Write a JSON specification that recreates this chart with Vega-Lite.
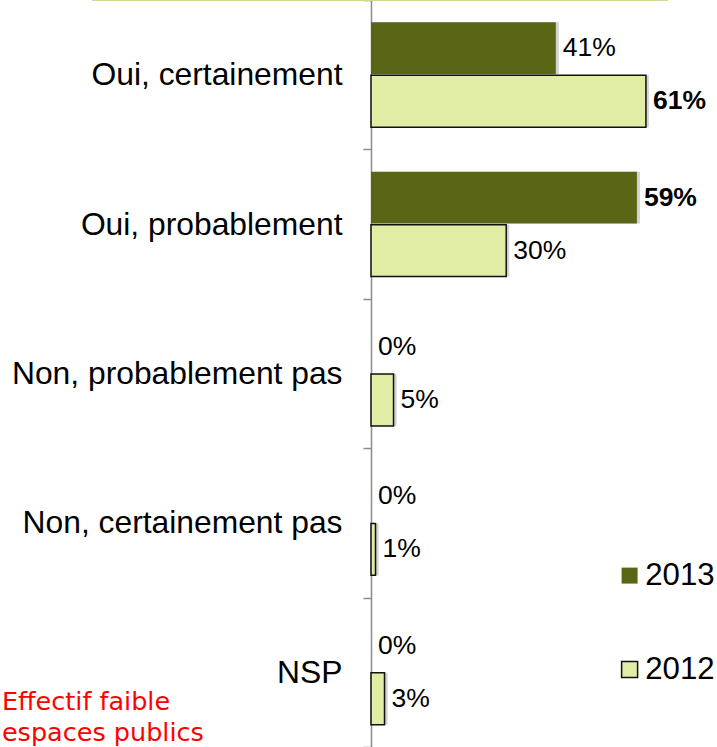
{
  "$schema": "https://vega.github.io/schema/vega-lite/v6.json",
  "width": 338,
  "height": 747,
  "autosize": {"type": "none"},
  "padding": {"left": 371, "top": 0, "right": 8, "bottom": 0},
  "background": "white",
  "config": {"view": {"stroke": null}, "font": "Liberation Sans"},
  "data": {
    "values": [
      {"cat": "Oui, certainement", "year": "2013", "pct": 0.41},
      {"cat": "Oui, certainement", "year": "2012", "pct": 0.61},
      {"cat": "Oui, probablement", "year": "2013", "pct": 0.59},
      {"cat": "Oui, probablement", "year": "2012", "pct": 0.30},
      {"cat": "Non, probablement pas", "year": "2013", "pct": 0},
      {"cat": "Non, probablement pas", "year": "2012", "pct": 0.05},
      {"cat": "Non, certainement pas", "year": "2013", "pct": 0},
      {"cat": "Non, certainement pas", "year": "2012", "pct": 0.01},
      {"cat": "NSP", "year": "2013", "pct": 0},
      {"cat": "NSP", "year": "2012", "pct": 0.03}
    ]
  },
  "layer": [
    {
      "mark": {"type": "bar", "color": "#000000", "opacity": 0.18, "xOffset": 3, "yOffset": 3},
      "encoding": {
        "y": {
          "field": "cat", "type": "nominal",
          "sort": ["Oui, certainement", "Oui, probablement", "Non, probablement pas", "Non, certainement pas", "NSP"],
          "scale": {"paddingInner": 0, "paddingOuter": 0},
          "axis": {
            "title": null, "tickBand": "extent", "tickSize": 8, "tickColor": "#8c8c8c", "domainColor": "#8c8c8c",
            "domainWidth": 1.5, "tickWidth": 1.5, "labelFontSize": 31.8, "labelColor": "#000000", "labelPadding": 21,
            "labelFont": "Liberation Sans", "labelLimit": 400
          }
        },
        "yOffset": {"field": "year", "type": "nominal", "sort": ["2013", "2012"], "scale": {"paddingInner": 0.02, "paddingOuter": 0.42}},
        "x": {"field": "pct", "type": "quantitative", "scale": {"domain": [0, 0.75], "nice": false, "zero": true}, "axis": null}
      }
    },
    {
      "mark": {"type": "bar", "strokeWidth": 1.5},
      "encoding": {
        "y": {"field": "cat", "type": "nominal", "sort": ["Oui, certainement", "Oui, probablement", "Non, probablement pas", "Non, certainement pas", "NSP"]},
        "yOffset": {"field": "year", "type": "nominal", "sort": ["2013", "2012"]},
        "x": {"field": "pct", "type": "quantitative"},
        "color": {
          "field": "year", "type": "nominal",
          "scale": {"domain": ["2013", "2012"], "range": ["#5a6616", "#e1eca5"]},
          "legend": {
            "title": null, "orient": "none", "legendX": 243, "legendY": 560, "symbolType": "square",
            "symbolSize": 256, "symbolStrokeWidth": 1.5, "labelFontSize": 31.2, "labelFont": "Liberation Sans",
            "labelColor": "#000000", "rowPadding": 62, "labelOffset": 0, "padding": 0
          }
        },
        "stroke": {
          "field": "year", "type": "nominal",
          "scale": {"domain": ["2013", "2012"], "range": ["transparent", "#111111"]},
          "legend": {
            "title": null, "orient": "none", "legendX": 243, "legendY": 560, "symbolType": "square",
            "symbolSize": 256, "symbolStrokeWidth": 1.5, "labelFontSize": 31.2, "labelFont": "Liberation Sans",
            "labelColor": "#000000", "rowPadding": 62, "labelOffset": 0, "padding": 0
          }
        }
      }
    },
    {
      "transform": [{"filter": "datum.pct < 0.59"}],
      "mark": {"type": "text", "align": "left", "baseline": "middle", "dx": 7, "fontSize": 26.5, "font": "Liberation Sans", "color": "#000000"},
      "encoding": {
        "y": {"field": "cat", "type": "nominal", "sort": ["Oui, certainement", "Oui, probablement", "Non, probablement pas", "Non, certainement pas", "NSP"]},
        "yOffset": {"field": "year", "type": "nominal", "sort": ["2013", "2012"]},
        "x": {"field": "pct", "type": "quantitative"},
        "text": {"field": "pct", "type": "quantitative", "format": ".0%"}
      }
    },
    {
      "transform": [{"filter": "datum.pct >= 0.59"}],
      "mark": {"type": "text", "align": "left", "baseline": "middle", "dx": 7, "fontSize": 26.5, "fontWeight": "bold", "font": "Liberation Sans", "color": "#000000"},
      "encoding": {
        "y": {"field": "cat", "type": "nominal", "sort": ["Oui, certainement", "Oui, probablement", "Non, probablement pas", "Non, certainement pas", "NSP"]},
        "yOffset": {"field": "year", "type": "nominal", "sort": ["2013", "2012"]},
        "x": {"field": "pct", "type": "quantitative"},
        "text": {"field": "pct", "type": "quantitative", "format": ".0%"}
      }
    },
    {
      "data": {"values": [{"note": "Effectif faible\nespaces publics"}]},
      "mark": {"type": "text", "align": "left", "baseline": "alphabetic", "lineBreak": "\n", "lineHeight": 31, "dy": 38, "font": "DejaVu Sans", "fontSize": 25.5, "color": "#ff0000"},
      "encoding": {
        "x": {"datum": -0.819, "type": "quantitative"},
        "y": {"datum": "NSP", "type": "nominal"},
        "text": {"field": "note", "type": "nominal"}
      }
    },
    {
      "data": {"values": [{"edge": "top"}]},
      "mark": {"type": "rule", "color": "#c8dc96", "strokeWidth": 2},
      "encoding": {
        "x": {"datum": -0.619, "type": "quantitative"},
        "x2": {"datum": 0.659},
        "y": {"datum": "Oui, certainement", "type": "nominal", "bandPosition": 0}
      }
    }
  ]
}
